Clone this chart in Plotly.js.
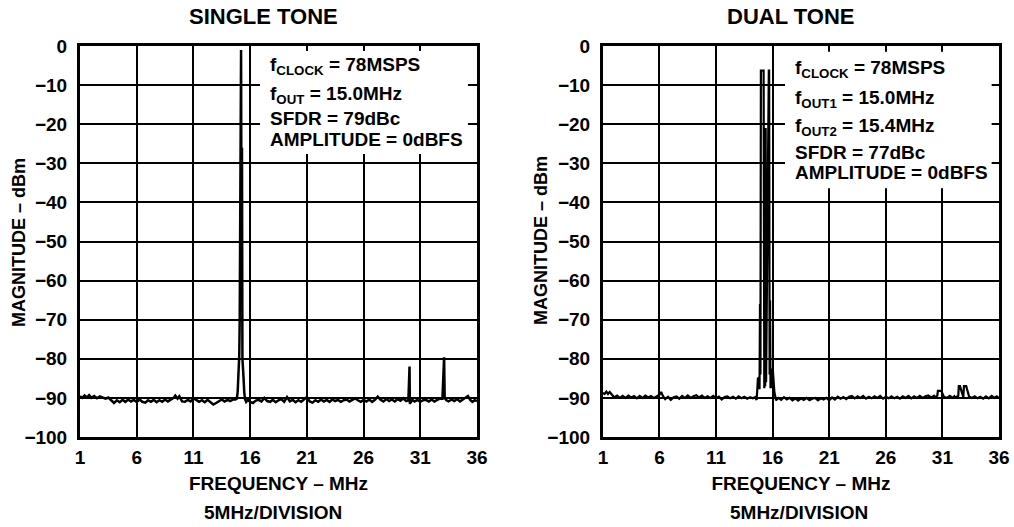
<!DOCTYPE html>
<html><head><meta charset="utf-8">
<script src="https://cdn.plot.ly/plotly-3.0.1.min.js"></script>
<style>html,body{margin:0;padding:0;background:#fff;} #chart{width:1014px;height:527px;}</style>
</head><body><div id="chart"></div>
<script>
// ---- data ----
const freqSingle = [1.0,1.2,1.4,1.6,1.8,2.0,2.25,2.5,2.75,3.0,3.25,3.5,3.75,4.0,4.25,4.5,4.75,5.0,5.25,5.5,5.75,6.0,6.25,6.5,6.75,7.0,7.25,7.5,7.75,8.0,8.25,8.5,8.75,9.0,9.25,9.4,9.6,9.75,10.0,10.25,10.5,10.75,11.0,11.25,11.5,11.75,12.0,12.25,12.5,12.75,13.0,13.25,13.5,13.75,14.0,14.25,14.5,14.7,14.82,14.9,14.96,15.0,15.04,15.08,15.12,15.16,15.2,15.24,15.28,15.32,15.36,15.42,15.48,15.55,15.65,15.8,16.0,16.25,16.5,16.75,17.0,17.25,17.5,17.75,18.0,18.25,18.5,18.75,19.0,19.25,19.5,19.75,20.0,20.25,20.5,20.75,21.0,21.25,21.5,21.75,22.0,22.25,22.5,22.75,23.0,23.25,23.5,23.75,24.0,24.25,24.5,24.75,25.0,25.25,25.5,25.75,26.0,26.25,26.5,26.75,27.0,27.25,27.5,27.75,28.0,28.25,28.5,28.75,29.0,29.25,29.5,29.75,29.95,30.0,30.05,30.08,30.15,30.3,30.5,30.75,31.0,31.25,31.5,31.75,32.0,32.25,32.5,32.75,32.95,33.05,33.1,33.15,33.3,33.5,33.75,34.0,34.25,34.5,34.75,35.0,35.2,35.4,35.6,35.8,36.0];
const magSingle = [-89.6,-90.0,-89.4,-89.9,-89.3,-90.0,-89.5,-90.1,-89.6,-90.0,-90.2,-89.9,-90.7,-91.3,-90.6,-91.1,-90.5,-91.0,-90.4,-90.9,-90.5,-91.1,-90.4,-91.0,-91.2,-90.6,-91.0,-90.5,-91.1,-90.6,-91.0,-90.4,-90.9,-90.5,-90.0,-89.4,-90.2,-89.6,-90.9,-91.0,-90.5,-90.9,-90.2,-90.5,-91.0,-90.6,-91.1,-90.5,-91.2,-91.7,-91.3,-90.9,-90.4,-90.9,-90.5,-90.8,-90.4,-90.4,-90.2,-88.5,-85.5,-83.5,-79.0,-70.0,-45.0,-1.0,-1.0,-55.0,-26.0,-80.0,-84.0,-85.0,-88.5,-90.3,-91.0,-90.5,-91.0,-91.3,-90.7,-90.5,-90.9,-90.0,-90.8,-91.0,-90.5,-91.1,-90.6,-90.3,-91.0,-89.8,-90.9,-90.5,-91.1,-90.6,-91.0,-90.4,-89.8,-90.9,-91.2,-90.6,-91.0,-90.4,-90.9,-90.5,-91.0,-90.4,-90.8,-90.5,-91.0,-90.6,-90.4,-90.9,-90.5,-90.1,-90.6,-91.0,-90.5,-90.9,-90.4,-91.0,-90.5,-89.7,-90.5,-90.9,-90.3,-90.8,-90.4,-90.9,-90.3,-90.7,-90.1,-90.8,-90.6,-82.0,-82.0,-91.5,-91.2,-90.5,-90.9,-90.5,-91.0,-90.6,-90.5,-90.9,-90.4,-90.9,-90.5,-90.2,-90.2,-84.5,-79.6,-90.0,-90.6,-90.9,-90.4,-90.8,-90.3,-90.9,-90.4,-90.0,-89.5,-90.5,-91.0,-90.6,-90.8];

const freqDual = [1.0,1.15,1.3,1.45,1.6,1.75,1.9,2.0,2.25,2.5,2.75,3.0,3.25,3.5,3.75,4.0,4.25,4.5,4.75,5.0,5.25,5.5,5.75,6.0,6.15,6.3,6.5,6.75,7.0,7.25,7.5,7.75,8.0,8.25,8.5,8.75,9.0,9.25,9.5,9.75,10.0,10.25,10.5,10.75,11.0,11.25,11.5,11.75,12.0,12.25,12.5,12.75,13.0,13.25,13.5,13.75,14.0,14.25,14.45,14.58,14.64,14.70,14.76,14.80,14.84,14.88,14.92,14.96,15.20,15.23,15.26,15.30,15.34,15.38,15.42,15.66,15.69,15.73,15.77,15.81,15.85,15.89,15.93,15.97,16.02,16.15,16.3,16.5,16.75,17.0,17.25,17.5,17.75,18.0,18.25,18.5,18.75,19.0,19.25,19.5,19.75,20.0,20.25,20.5,20.75,21.0,21.25,21.5,21.75,22.0,22.25,22.5,22.75,23.0,23.25,23.5,23.75,24.0,24.25,24.5,24.75,25.0,25.25,25.5,25.75,26.0,26.25,26.5,26.75,27.0,27.25,27.5,27.75,28.0,28.25,28.5,28.75,29.0,29.25,29.5,29.75,30.0,30.25,30.3,30.55,30.6,30.9,31.15,31.4,31.65,31.9,32.05,32.1,32.4,32.45,32.55,32.85,32.9,33.1,33.35,33.6,33.85,34.1,34.35,34.6,34.85,35.1,35.35,35.6,35.8,36.0];
const magDual = [-88.7,-89.0,-88.4,-89.0,-88.5,-89.1,-89.4,-89.9,-89.4,-90.0,-89.5,-90.0,-89.4,-89.9,-89.5,-90.1,-89.5,-90.0,-89.4,-89.9,-89.5,-90.0,-89.6,-89.2,-88.5,-89.5,-90.3,-89.7,-90.5,-89.8,-89.6,-90.2,-89.5,-90.0,-89.4,-90.0,-89.6,-89.3,-89.9,-89.4,-90.0,-89.6,-90.0,-89.5,-90.1,-89.7,-90.4,-89.8,-89.6,-90.1,-89.7,-90.2,-89.6,-90.1,-89.7,-90.2,-89.8,-90.1,-89.8,-90.5,-88.0,-84.8,-87.5,-84.6,-87.8,-66.0,-84.0,-6.3,-6.3,-84.0,-87.5,-82.0,-87.0,-21.0,-86.0,-6.3,-6.3,-84.0,-65.0,-87.5,-83.0,-87.5,-82.5,-86.5,-83.0,-88.5,-90.6,-90.0,-90.5,-89.8,-90.4,-90.0,-90.6,-90.1,-90.7,-90.1,-90.5,-90.0,-90.6,-90.2,-90.0,-90.6,-90.1,-90.4,-90.0,-90.6,-89.9,-90.4,-89.7,-90.2,-89.8,-90.3,-89.7,-89.5,-90.1,-89.6,-90.0,-89.5,-90.2,-89.7,-90.1,-89.6,-90.0,-89.5,-90.2,-89.7,-90.1,-89.6,-90.1,-89.7,-90.2,-89.6,-90.0,-89.5,-90.1,-89.6,-90.0,-89.5,-90.0,-89.6,-89.4,-89.9,-89.5,-89.9,-89.4,-88.2,-88.2,-89.8,-90.0,-89.5,-90.0,-89.6,-89.9,-89.5,-87.0,-87.0,-89.8,-87.0,-87.0,-89.6,-90.0,-89.6,-90.1,-89.7,-90.2,-89.6,-90.1,-89.5,-90.0,-89.6,-90.1,-89.7,-89.9];

const xTickVals = [1,6,11,16,21,26,31,36];
const yTickVals = [-100,-90,-80,-70,-60,-50,-40,-30,-20,-10,0];
const panelTitles = ['SINGLE TONE','DUAL TONE'];
const xTitleText = 'FREQUENCY – MHz';
const xSubText = '5MHz/DIVISION';
const yTitleText = 'MAGNITUDE – dBm';
const singleNotes = ['f<sub>CLOCK</sub> = 78MSPS','f<sub>OUT</sub> = 15.0MHz','SFDR = 79dBc','AMPLITUDE = 0dBFS'];
const dualNotes = ['f<sub>CLOCK</sub> = 78MSPS','f<sub>OUT1</sub> = 15.0MHz','f<sub>OUT2</sub> = 15.4MHz','SFDR = 77dBc','AMPLITUDE = 0dBFS'];

// ---- styling / layout ----
const FONT = 'Liberation Sans, Arial, Helvetica, sans-serif';
const singleNoteY = [-5.2,-12.6,-18.6,-23.8];
const dualNoteY = [-5.8,-13.5,-20.6,-27.3,-32.4];

const traces = [
  {x: freqSingle, y: magSingle, type:'scatter', mode:'lines', xaxis:'x', yaxis:'y',
   line:{color:'#000', width:2.5}, hoverinfo:'skip'},
  {x: freqDual, y: magDual, type:'scatter', mode:'lines', xaxis:'x2', yaxis:'y2',
   line:{color:'#000', width:2.2}, hoverinfo:'skip'}
];

function xAxis(domain, anchor){
  return {domain: domain, anchor: anchor, range:[1,36], tickmode:'array', tickvals:xTickVals,
    ticktext: xTickVals.map(String),
    showgrid:true, gridcolor:'#000', gridwidth:2, zeroline:false,
    showline:true, linecolor:'#000', linewidth:3, mirror:true, ticks:'', ticklabelstandoff:1,
    tickfont:{family:FONT, size:19, color:'#000', weight:'bold'},
    title:{text:xTitleText, standoff:10, font:{family:FONT, size:19, color:'#000', weight:'bold'}}};
}
function yAxis(anchor){
  return {domain:[0,1], anchor: anchor, range:[-100,0], tickmode:'array', tickvals:yTickVals,
    showgrid:true, gridcolor:'#000', gridwidth:2, zeroline:false,
    showline:true, linecolor:'#000', linewidth:3, mirror:true, ticks:'', ticklabelstandoff:6,
    tickfont:{family:FONT, size:19, color:'#000', weight:'bold'},
    title:{text:''}};
}

const annotations = [];
function pxX(px){ return (px-80)/919; }
function pxY(py){ return (437-py)/391; }
annotations.push({text:panelTitles[0], xref:'paper', yref:'paper', x:pxX(263), y:pxY(17), showarrow:false,
  xanchor:'center', yanchor:'middle', font:{family:FONT, size:22, color:'#000', weight:'bold'}});
annotations.push({text:panelTitles[1], xref:'paper', yref:'paper', x:pxX(791), y:pxY(17), showarrow:false,
  xanchor:'center', yanchor:'middle', font:{family:FONT, size:22, color:'#000', weight:'bold'}});
annotations.push({text:xSubText, xref:'paper', yref:'paper', x:pxX(272.5), y:pxY(512), showarrow:false,
  xanchor:'center', yanchor:'middle', font:{family:FONT, size:19, color:'#000', weight:'bold'}});
annotations.push({text:xSubText, xref:'paper', yref:'paper', x:pxX(799), y:pxY(512), showarrow:false,
  xanchor:'center', yanchor:'middle', font:{family:FONT, size:19, color:'#000', weight:'bold'}});
annotations.push({text:yTitleText, xref:'paper', yref:'paper', x:pxX(19), y:pxY(243), showarrow:false, textangle:-90,
  xanchor:'center', yanchor:'middle', font:{family:FONT, size:18, color:'#000', weight:'bold'}});
annotations.push({text:yTitleText, xref:'paper', yref:'paper', x:pxX(541), y:pxY(241), showarrow:false, textangle:-90,
  xanchor:'center', yanchor:'middle', font:{family:FONT, size:18, color:'#000', weight:'bold'}});
singleNotes.forEach((t,i)=>annotations.push({text:t, xref:'x', yref:'y', x:17.55, y:singleNoteY[i],
  showarrow:false, xanchor:'left', yanchor:'middle', font:{family:FONT, size:19, color:'#000', weight:'bold'}}));
dualNotes.forEach((t,i)=>annotations.push({text:t, xref:'x2', yref:'y2', x:17.77, y:dualNoteY[i],
  showarrow:false, xanchor:'left', yanchor:'middle', font:{family:FONT, size:19, color:'#000', weight:'bold'}}));

const shapes = [
  {type:'rect', xref:'x', yref:'y', x0:16.87, x1:35.2, y0:-1.3, y1:-27.6, fillcolor:'#fff', line:{width:0}, layer:'between'},
  {type:'rect', xref:'x2', yref:'y2', x0:17.09, x1:35.35, y0:-1.5, y1:-36.4, fillcolor:'#fff', line:{width:0}, layer:'between'}
];

const layout = {
  width:1014, height:527, showlegend:false,
  margin:{l:80, r:15, t:46, b:90},
  paper_bgcolor:'#fff', plot_bgcolor:'#fff',
  font:{family:FONT, size:18, color:'#000', weight:'bold'},
  xaxis: xAxis([0,0.432],'y'),
  yaxis: yAxis('x'),
  xaxis2: xAxis([0.569,1],'y2'),
  yaxis2: yAxis('x2'),
  annotations: annotations,
  shapes: shapes
};

Plotly.newPlot('chart', traces, layout, {staticPlot:true, displayModeBar:false});
</script>
</body></html>
